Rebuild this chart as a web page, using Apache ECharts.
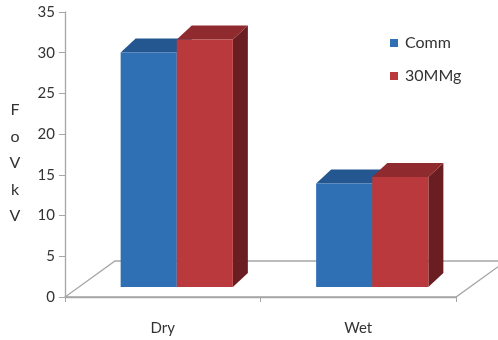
<!DOCTYPE html>
<html>
<head>
<meta charset="utf-8">
<script src="https://cdn.jsdelivr.net/npm/echarts@6/dist/echarts.min.js"></script>
<style>
  html, body { margin: 0; padding: 0; background: #fff; }
  #chart { width: 498px; height: 340px; }
</style>
</head>
<body>
<div id="chart"></div>
<script>
// Data
const categories = ['Dry', 'Wet'];
const seriesNames = ['Comm', '30MMg'];
const commValues = [28.8, 12.7];
const mmgValues = [30.4, 13.5];
const yTicks = { min: 0, max: 35, interval: 5 };
const axisTitle = 'FoVkV';

// 3D look: front-face offset from the floor's front edge, box depth, floor depth
const FRONT = [14, -10];
const DEPTH = [15, -14];
const FLOOR = [50, -36];
const BAR_FRAC = 0.287;

const palettes = [
  { front: '#2f6fb3', top: '#24578f', side: '#1d4675' },
  { front: '#b9393d', top: '#8f2b2f', side: '#6b1e21' }
];

function boxRenderer(idx) {
  const pal = palettes[idx];
  return function (params, api) {
    const cat = api.value(0);
    const v = api.value(1);
    const band = api.size([1, 0])[0];
    const w = band * BAR_FRAC;
    const topPt = api.coord([cat, v]);
    const basePt = api.coord([cat, 0]);
    const x0 = topPt[0] + (idx === 0 ? -w : 0) + FRONT[0];
    const x1 = x0 + w;
    const yt = topPt[1] + FRONT[1];
    const yb = basePt[1] + FRONT[1];
    const dx = DEPTH[0], dy = DEPTH[1];
    return {
      type: 'group',
      children: [
        { type: 'polygon', shape: { points: [[x1, yb], [x1 + dx, yb + dy], [x1 + dx, yt + dy], [x1, yt]] }, style: { fill: pal.side } },
        { type: 'polygon', shape: { points: [[x0, yt], [x1, yt], [x1 + dx, yt + dy], [x0 + dx, yt + dy]] }, style: { fill: pal.top } },
        { type: 'rect', shape: { x: x0, y: yt, width: w, height: yb - yt }, style: { fill: pal.front } }
      ]
    };
  };
}

function floorRenderer(params, api) {
  const band = api.size([1, 0])[0];
  const a = api.coord([0, 0]);
  const b = api.coord([categories.length - 1, 0]);
  const L = a[0] - band / 2, R = b[0] + band / 2, y = a[1];
  return {
    type: 'polygon',
    shape: { points: [[L, y], [R, y], [R + FLOOR[0], y + FLOOR[1]], [L + FLOOR[0], y + FLOOR[1]]] },
    style: { fill: 'none', stroke: '#a6a6a6', lineWidth: 1.3 }
  };
}

const chart = echarts.init(document.getElementById('chart'), null, { renderer: 'canvas' });
const font = 'Lato, "Open Sans", "Liberation Sans", sans-serif';

chart.setOption({
  animation: false,
  backgroundColor: '#ffffff',
  textStyle: { fontFamily: font },
  grid: { left: 65, right: 42, top: 12, bottom: 43, containLabel: false },
  legend: {
    data: seriesNames,
    orient: 'vertical',
    left: 385,
    top: 30,
    itemWidth: 8,
    itemHeight: 8,
    itemGap: 17,
    icon: 'rect',
    textStyle: { fontSize: 16, color: '#333', fontFamily: font, padding: [0, 0, 0, 2] }
  },
  xAxis: {
    type: 'category',
    data: categories,
    axisLine: { show: true, lineStyle: { color: '#a6a6a6', width: 1.3 } },
    axisTick: { show: true, length: 5, lineStyle: { color: '#a6a6a6' } },
    axisLabel: { fontSize: 15, color: '#333', margin: 24, fontFamily: font }
  },
  yAxis: {
    type: 'value',
    min: yTicks.min,
    max: yTicks.max,
    interval: yTicks.interval,
    // one letter per line, with a short spacer line on top
    name: '{gap|}\n' + axisTitle.split('').join('\n'),
    nameLocation: 'middle',
    nameRotate: 0,
    nameGap: 50,
    nameTextStyle: {
      fontSize: 16, color: '#333', lineHeight: 26.5, align: 'center', fontFamily: font,
      rich: { gap: { lineHeight: 17, height: 17 } }
    },
    splitLine: { show: false },
    axisLine: { show: true, lineStyle: { color: '#a6a6a6', width: 1.3 } },
    axisTick: { show: true, length: 6, lineStyle: { color: '#a6a6a6' } },
    axisLabel: { fontSize: 15, color: '#333', margin: 10, fontFamily: font }
  },
  series: [
    {
      type: 'custom',
      name: 'floor',
      silent: true,
      renderItem: floorRenderer,
      data: [[0, 0]],
      z: 1
    },
    {
      type: 'custom',
      name: seriesNames[0],
      renderItem: boxRenderer(0),
      itemStyle: { color: palettes[0].front },
      data: categories.map((c, i) => [i, commValues[i]]),
      z: 2
    },
    {
      type: 'custom',
      name: seriesNames[1],
      renderItem: boxRenderer(1),
      itemStyle: { color: palettes[1].front },
      data: categories.map((c, i) => [i, mmgValues[i]]),
      z: 3
    }
  ]
});
</script>
</body>
</html>
